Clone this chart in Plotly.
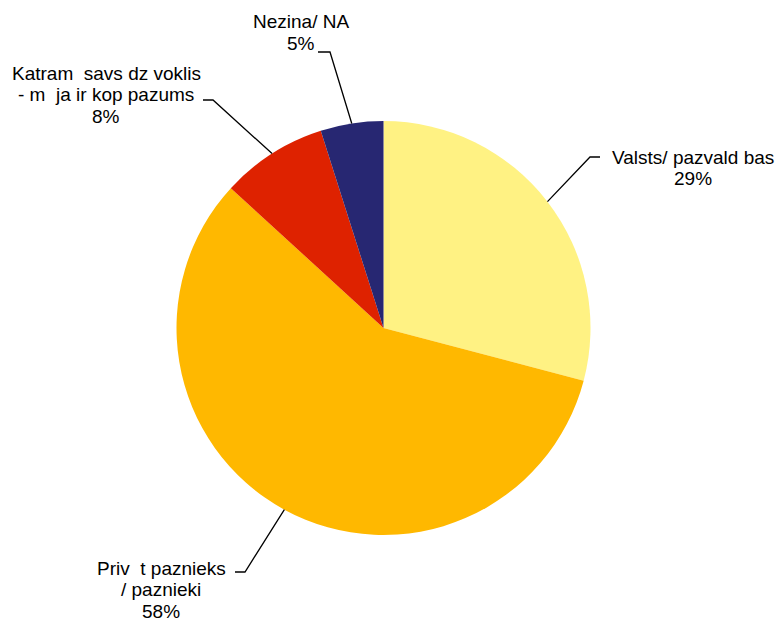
import math
import plotly.graph_objects as go

# ---- data ----
categories = ["Valsts/ pazvald bas", "Priv  t paznieks / paznieki",
              "Katram  savs dz voklis - m  ja ir kop pazums", "Nezina/ NA"]
label_lines = [["Valsts/ pazvald bas"],
               ["Priv  t paznieks", "/ paznieki"],
               ["Katram  savs dz voklis", "- m  ja ir kop pazums"],
               ["Nezina/ NA"]]
values = [29.1, 57.7, 8.3, 4.9]
colors = ["#FFF283", "#FFB800", "#DE2200", "#272772"]

W, H = 784, 622
CX, CY, R = 383.5, 328, 207

def px(x):
    return x / W

def py(y):
    return 1 - y / H

fig = go.Figure(go.Pie(
    labels=categories, values=values, sort=False, direction="clockwise",
    rotation=0, textinfo="none", hoverinfo="label+percent",
    marker=dict(colors=colors, line=dict(width=0)),
    domain=dict(x=[px(CX - R), px(CX + R)], y=[py(CY + R), py(CY - R)]),
    showlegend=False,
))

# label layout: (text block centre x, first line y, elbow x, elbow y, end x)
label_pos = [
    (693, 157, 590, 157, 600),
    (161, 568, 245, 572, 235),
    (106, 73, 213, 100, 203),
    (301, 22, 330, 52, 318),
]
LINE_H = 21.5

total = sum(values)
cum = 0
shapes, annotations = [], []
for i, v in enumerate(values):
    mid = (cum + v / 2) / total * 2 * math.pi
    cum += v
    sx = CX + R * math.sin(mid)
    sy = CY - R * math.cos(mid)
    tx, ty, ex, ey, hx = label_pos[i]
    shapes.append(dict(
        type="path", xref="paper", yref="paper",
        path=f"M {px(sx)},{py(sy)} L {px(ex)},{py(ey)} L {px(hx)},{py(ey)}",
        line=dict(color="black", width=1.3)))
    lines = label_lines[i] + [f"{round(v / total * 100)}%"]
    for k, ln in enumerate(lines):
        annotations.append(dict(
            x=px(tx), y=py(ty + k * LINE_H), xref="paper", yref="paper",
            text=ln, showarrow=False, xanchor="center", yanchor="middle",
            font=dict(family="Liberation Sans, Arial, sans-serif", size=19, color="black")))

fig.update_layout(
    width=W, height=H, margin=dict(l=0, r=0, t=0, b=0),
    paper_bgcolor="white", plot_bgcolor="white",
    shapes=shapes, annotations=annotations,
)

fig.write_html("out.html", config={"displayModeBar": False},
               post_script="document.body.style.margin='0';document.body.style.overflow='hidden';")
